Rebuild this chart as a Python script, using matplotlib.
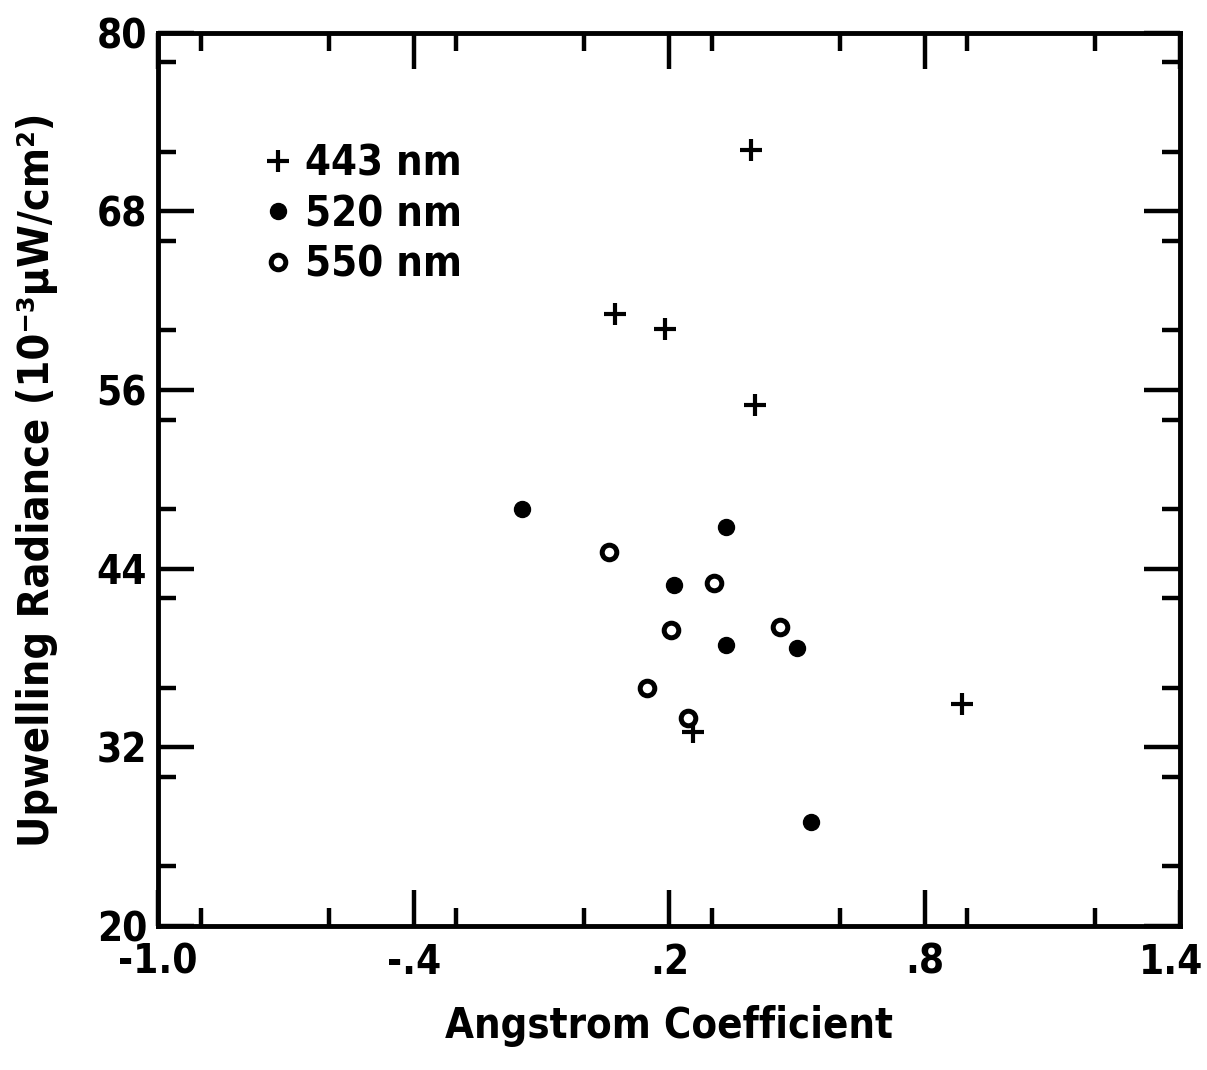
import matplotlib
matplotlib.use("Agg")
import matplotlib.pyplot as plt
import matplotlib.transforms as mtransforms
from matplotlib.ticker import MultipleLocator, FixedLocator

plt.rcParams['font.family'] = ['DejaVu Sans Condensed', 'DejaVu Sans']
plt.rcParams['font.stretch'] = 'condensed'
plt.rcParams['font.weight'] = 'bold'
plt.rcParams['axes.labelweight'] = 'bold'

# 443 nm
x443 = [0.393, 0.073, 0.191, 0.402, 0.887, 0.256]
y443 = [72.1, 61.1, 60.1, 55.0, 34.9, 33.0]
# 520 nm
x520 = [-0.146, 0.332, 0.212, 0.332, 0.501, 0.532]
y520 = [48.0, 46.8, 42.9, 38.9, 38.7, 27.0]
# 550 nm
x550 = [0.059, 0.306, 0.205, 0.459, 0.148, 0.245]
y550 = [45.1, 43.0, 39.9, 40.1, 36.0, 34.0]

xticks = [-1.0, -0.4, 0.2, 0.8, 1.4]
xticklabels = ['-1.0', '-.4', '.2', '.8', '1.4']
yticks = [20, 32, 44, 56, 68, 80]

fig = plt.figure(figsize=(12.07, 10.70), dpi=100)
ax = fig.add_axes([0.131, 0.1346, 0.847, 0.835])

ax.plot(x443, y443, linestyle='none', marker='+', ms=16, mew=3.0,
        color='black', label='443 nm')
ax.plot(x520, y520, linestyle='none', marker='o', ms=11.5,
        color='black', label='520 nm')
ax.plot(x550, y550, linestyle='none', marker='o', ms=10.5, mew=3.6,
        mfc='white', mec='black', label='550 nm')

ax.set_xlim(-1.0, 1.4)
ax.set_ylim(20, 80)
ax.xaxis.set_major_locator(FixedLocator(xticks))
ax.set_xticklabels(xticklabels)
ax.xaxis.set_minor_locator(MultipleLocator(0.3))
ax.yaxis.set_major_locator(FixedLocator(yticks))
ax.yaxis.set_minor_locator(MultipleLocator(6))

for s in ax.spines.values():
    s.set_linewidth(3.5)
ax.tick_params(which='both', direction='in', top=True, right=True, width=3.2)
ax.tick_params(which='major', length=26, labelsize=29, pad=8)
ax.tick_params(axis='x', which='major', pad=12)
ax.tick_params(which='minor', length=13)

# the last x label sits at the figure edge; nudge it left a little
last = ax.get_xticklabels()[-1]
last.set_transform(last.get_transform() +
                   mtransforms.ScaledTranslation(-9 / 100, 0, fig.dpi_scale_trans))

ax.set_xlabel('Angstrom Coefficient', fontsize=30, labelpad=16)
ax.set_ylabel('Upwelling Radiance (10⁻³μW/cm²)', fontsize=31, labelpad=28)

ax.legend(loc='upper left', bbox_to_anchor=(0.085, 0.9), frameon=False,
          fontsize=30, handlelength=0.6, handletextpad=0.35, labelspacing=0.2,
          borderpad=0)

fig.savefig('out.png', dpi=100)
